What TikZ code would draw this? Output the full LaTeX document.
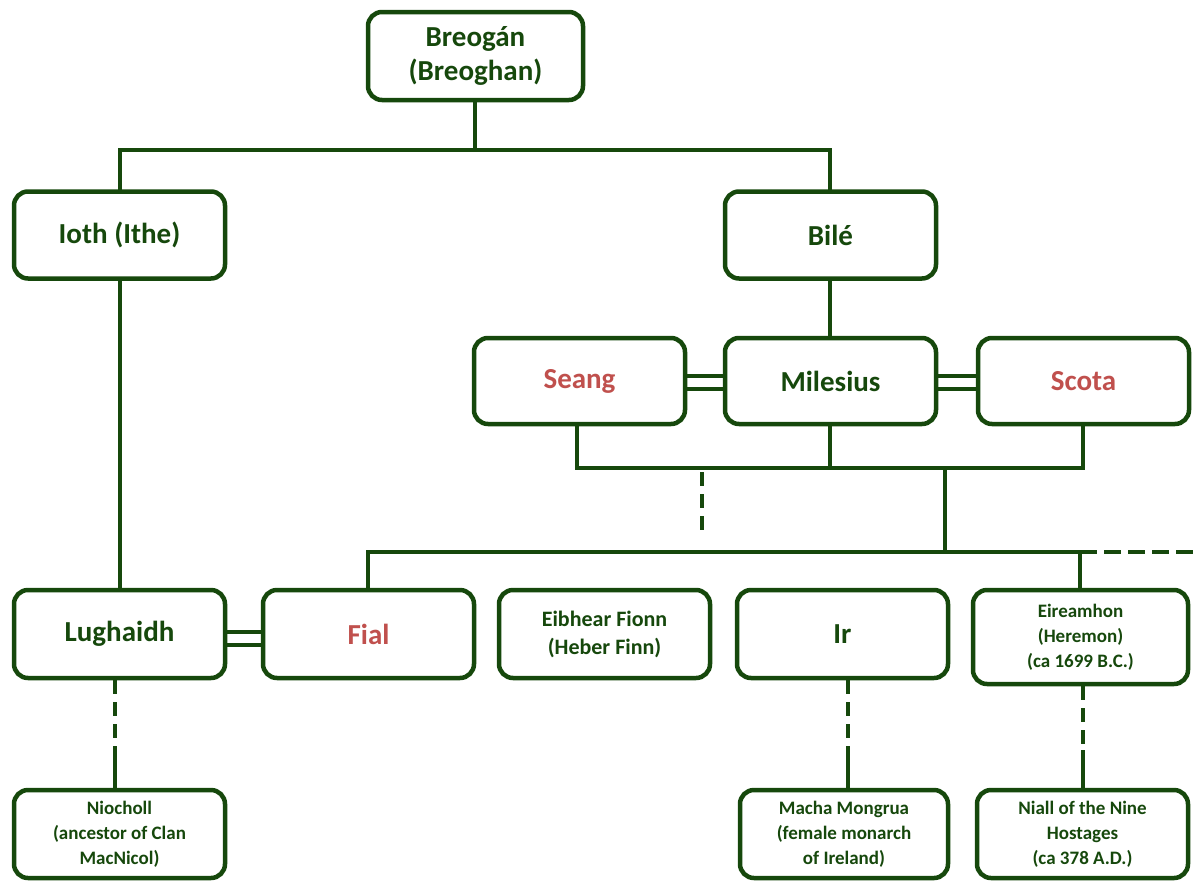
\documentclass[tikz,border=0pt]{standalone}
\usepackage{fontspec}
\setmainfont{Carlito}
\begin{document}
\begin{tikzpicture}[x=1pt,y=-1pt,
  every node/.style={font=\bfseries},
  box/.style={draw=dg,line width=4.5pt,rounded corners=14pt,fill=white,text=dg,align=center,inner sep=0pt},
  ln/.style={draw=dg,line width=4.5pt},
  dl/.style={ln,dash pattern=on 14pt off 8pt}]
\definecolor{dg}{RGB}{22,72,12}
\definecolor{rd}{RGB}{192,80,77}
\useasboundingbox (0,0) rectangle (1200,895);
\newcommand\bx[6]{\node[box,minimum width=#3-#2,minimum height=#5-#4,font=\bfseries#6] (#1) at ({(#2+#3)/2},{(#4+#5)/2}) {};}
% coordinates
\coordinate (h1) at (475,150);
\draw[ln] (475,60) -- (h1);
\draw[ln] (120,235) -- (120,150) -- (830,150) -- (830,235);
\draw[ln] (120,235) -- (120,630);
\draw[ln] (830,235) -- (830,380);
\draw[ln] (577,380) -- (577,468) -- (1083,468) -- (1083,380);
\draw[ln] (830,380) -- (830,468);
\draw[dl] (702,472) -- (702,530);
\draw[ln] (945,468) -- (945,552);
\draw[ln] (368,630) -- (368,552) -- (1080,552) -- (1080,630);
\draw[ln,dash pattern=on 17pt off 7pt] (1080,552) -- (1196,552);
\draw[ln] (680,376) -- (730,376) (680,389) -- (730,389);
\draw[ln] (930,376) -- (980,376) (930,389) -- (980,389);
\draw[ln] (220,632) -- (265,632) (220,645) -- (265,645);
\draw[dl] (115,680) -- (115,760);
\draw[ln] (115,750) -- (115,790);
\draw[dl] (848,680) -- (848,760);
\draw[ln] (848,750) -- (848,790);
\draw[dl] (1083,686) -- (1083,760);
\draw[ln] (1083,750) -- (1083,790);
% boxes
\node[box,minimum width=215,minimum height=88,font=\bfseries\fontsize{29}{34}\selectfont] (breogan) at (475.5,56) {Breogán\\(Breoghan)};
\node[box,minimum width=211,minimum height=87,font=\bfseries\fontsize{29}{34}\selectfont] (ioth) at (119.5,235) {Ioth (Ithe)};
\node[box,minimum width=211,minimum height=87,font=\bfseries\fontsize{29}{34}\selectfont] (bile) at (830.5,235) {Bilé};
\node[box,minimum width=211,minimum height=86,font=\bfseries\fontsize{29}{34}\selectfont,text=rd] (seang) at (579.5,381) {Seang};
\node[box,minimum width=211,minimum height=86,font=\bfseries\fontsize{29}{34}\selectfont] (milesius) at (830.5,381) {Milesius};
\node[box,minimum width=211,minimum height=86,font=\bfseries\fontsize{29}{34}\selectfont,text=rd] (scota) at (1083.5,381) {Scota};
\node[box,minimum width=211,minimum height=88,font=\bfseries\fontsize{29}{34}\selectfont] (lugh) at (119.5,634) {Lughaidh};
\node[box,minimum width=211,minimum height=88,font=\bfseries\fontsize{29}{34}\selectfont,text=rd] (fial) at (368.5,634) {Fial};
\node[box,minimum width=211,minimum height=88,font=\bfseries\fontsize{22}{28}\selectfont] (eib) at (604.5,634) {Eibhear Fionn\\(Heber Finn)};
\node[box,minimum width=211,minimum height=88,font=\bfseries\fontsize{29}{34}\selectfont] (ir) at (842.5,634) {Ir};
\node[box,minimum width=215,minimum height=94,font=\bfseries\fontsize{19}{25}\selectfont] (eir) at (1080.5,637) {Eireamhon\\(Heremon)\\(ca 1699 B.C.)};
\node[box,minimum width=211,minimum height=88,font=\bfseries\fontsize{19}{25}\selectfont] (nio) at (119.5,834) {Niocholl\\(ancestor of Clan\\MacNicol)};
\node[box,minimum width=208,minimum height=88,font=\bfseries\fontsize{19}{25}\selectfont] (macha) at (844,834) {Macha Mongrua\\(female monarch\\of Ireland)};
\node[box,minimum width=211,minimum height=88,font=\bfseries\fontsize{19}{25}\selectfont] (niall) at (1082.5,834) {Niall of the Nine\\Hostages\\(ca 378 A.D.)};
\end{tikzpicture}
\end{document}
